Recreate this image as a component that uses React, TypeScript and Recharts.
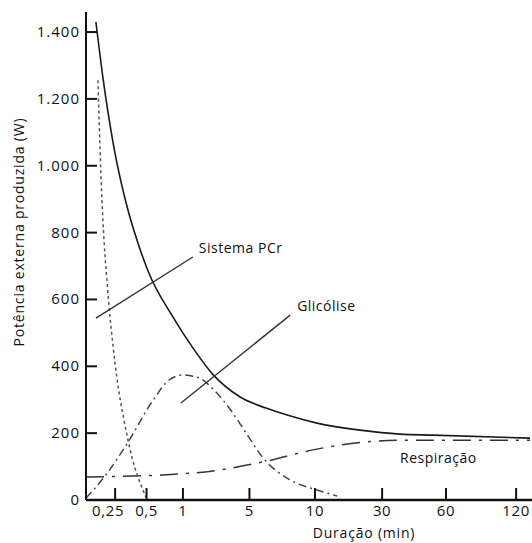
/**
 * Potência externa x duração do exercício
 * Curvas: total (sólida), sistema PCr, glicólise e respiração.
 * O eixo x não é linear: cada duração tem a sua posição no eixo.
 */

import { LineChart, Line, XAxis, YAxis, ReferenceLine, ReferenceDot } from 'recharts';

// eixo x: posição de cada marca e o seu rótulo (duração em min)
const xTicks = [0.88, 1.83, 2.93, 4.94, 6.92, 8.95, 10.88, 13];
const xTickLabels = ['0,25', '0,5', '1', '5', '10', '30', '60', '120'];

// eixo y (W)
const yTicks = [0, 200, 400, 600, 800, 1000, 1200, 1400];
const yTickLabels = ['0', '200', '400', '600', '800', '1.000', '1.200', '1.400'];

// potência total
const totalPos = [0.3, 0.51, 0.82, 1.27, 1.57, 1.9, 2.63, 3.23, 3.84, 4.66, 5.44, 6.08, 6.98, 8.28, 9.49, 10.49, 13.42];
const totalW = [1430, 1265, 1068, 867, 769, 679, 547, 455, 375, 308, 275, 254, 230, 209, 197, 194, 185];

// sistema PCr
const pcrPos = [0.36, 0.45, 0.7, 0.82, 1.27, 1.81];
const pcrW = [1256, 978, 577, 458, 179, 9];

// glicólise
const glyPos = [0, 0.6, 1.27, 2.03, 2.51, 2.93, 3.42, 3.87, 4.44, 4.84, 5.35, 6.17, 6.98, 7.59];
const glyW = [6, 75, 173, 299, 359, 374, 365, 329, 260, 200, 126, 60, 30, 12];

// respiração
const respPos = [0, 2.33, 3.84, 5.35, 6.86, 8.37, 9.49, 13.42];
const respW = [69, 75, 87, 114, 150, 173, 179, 179];

const toPoints = (xs: number[], ys: number[]) => xs.map((x, i) => ({ x, y: ys[i] }));

const totalData = toPoints(totalPos, totalW);
const pcrData = toPoints(pcrPos, pcrW);
const glyData = toPoints(glyPos, glyW);
const respData = toPoints(respPos, respW);

const FONT = '"Open Sans", "DejaVu Sans", sans-serif';
const INK = '#111';

const YTick = (props: any) => {
  const { x, y, payload } = props;
  const i = yTicks.indexOf(payload.value);
  return (
    <g>
      <line x1={x} x2={x + 11} y1={y} y2={y} stroke={INK} strokeWidth={2} />
      <text x={x - 6} y={y} dy={5} textAnchor="end" fontFamily={FONT} fontSize={15} letterSpacing={1} fill={INK}>
        {yTickLabels[i]}
      </text>
    </g>
  );
};

const XTick = (props: any) => {
  const { x, y, payload } = props;
  const i = xTicks.indexOf(payload.value);
  // o rótulo "0,25" fica um pouco à esquerda da sua marca
  const shift = i === 0 ? -7 : 0;
  return (
    <g>
      <line x1={x} x2={x} y1={y - 12} y2={y} stroke={INK} strokeWidth={2} />
      <text x={x + shift} y={y} dy={16} textAnchor="middle" fontFamily={FONT} fontSize={15} letterSpacing={0.6} fill={INK}>
        {xTickLabels[i]}
      </text>
    </g>
  );
};

const noteLabel = (text: string) => (props: any) => {
  const { viewBox } = props;
  return (
    <text
      x={viewBox.x + 5}
      y={viewBox.y}
      dy={5}
      fontFamily={FONT}
      fontSize={14}
      letterSpacing={0.5}
      fill={INK}
    >
      {text}
    </text>
  );
};

const App = () => {
  return (
    <div style={{ position: 'absolute', left: 0, top: 0, width: 532, height: 543, background: '#fff' }}>
      <LineChart width={532} height={543} margin={{ top: 12, right: 0, bottom: 0, left: 0 }}>
        <XAxis
          type="number"
          dataKey="x"
          domain={[0, 13.48]}
          ticks={xTicks}
          interval={0}
          height={43}
          tickSize={0}
          tickMargin={0}
          tickLine={false}
          axisLine={{ stroke: INK, strokeWidth: 2.5 }}
          tick={XTick}
          label={() => (
            <text x={364} y={538} textAnchor="middle" fontFamily={FONT} fontSize={14} letterSpacing={0.8} fill={INK}>
              Duração (min)
            </text>
          )}
        />
        <YAxis
          type="number"
          dataKey="y"
          domain={[0, 1460]}
          ticks={yTicks}
          interval={0}
          width={86}
          tickSize={0}
          tickMargin={0}
          tickLine={false}
          axisLine={{ stroke: INK, strokeWidth: 2 }}
          tick={YTick}
          label={() => (
            <text
              transform="translate(24,232) rotate(-90)"
              textAnchor="middle"
              fontFamily={FONT}
              fontSize={14}
              letterSpacing={0.8}
              fill={INK}
            >
              Potência externa produzida (W)
            </text>
          )}
        />

        <Line data={respData} dataKey="y" type="monotone" stroke="#333" strokeWidth={1.5} strokeDasharray="18 8 3 8" dot={false} activeDot={false} isAnimationActive={false} />
        <Line data={glyData} dataKey="y" type="monotone" stroke="#444" strokeWidth={1.5} strokeDasharray="8 4 2 4" dot={false} activeDot={false} isAnimationActive={false} />
        <Line data={pcrData} dataKey="y" type="monotone" stroke="#555" strokeWidth={1.5} strokeDasharray="3 3" dot={false} activeDot={false} isAnimationActive={false} />
        <Line data={totalData} dataKey="y" type="monotone" stroke="#1a1a1a" strokeWidth={1.6} dot={false} activeDot={false} isAnimationActive={false} />

        {/* traços que ligam os nomes às curvas */}
        <ReferenceLine segment={[{ x: 0.3, y: 544 }, { x: 3.23, y: 727 }]} stroke="#333" strokeWidth={1.4} />
        <ReferenceLine segment={[{ x: 2.87, y: 290 }, { x: 6.17, y: 553 }]} stroke="#333" strokeWidth={1.4} />

        <ReferenceDot x={3.26} y={754} r={0} fill="none" stroke="none" label={noteLabel('Sistema PCr')} />
        <ReferenceDot x={6.23} y={580} r={0} fill="none" stroke="none" label={noteLabel('Glicólise')} />
        <ReferenceDot x={9.34} y={126} r={0} fill="none" stroke="none" label={noteLabel('Respiração')} />
      </LineChart>
    </div>
  );
};

export default App;
